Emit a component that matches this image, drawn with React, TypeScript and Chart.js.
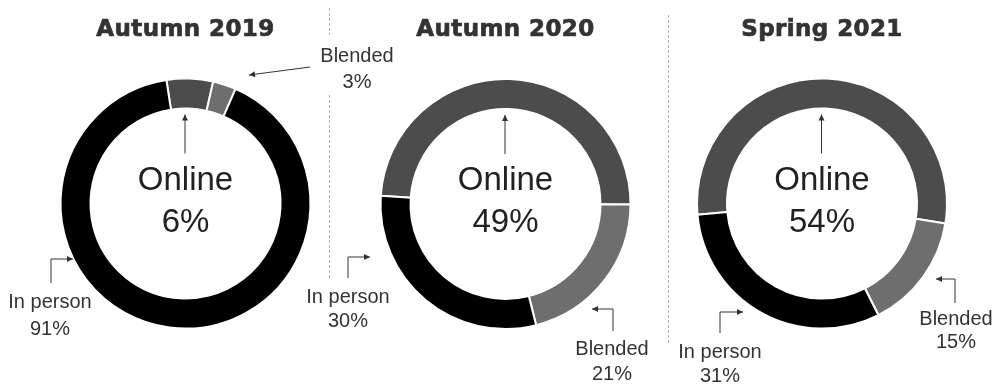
import React, { useEffect, useRef } from 'react';
import { Chart, registerables } from 'chart.js';

Chart.register(...registerables);

const periods = ['Autumn 2019', 'Autumn 2020', 'Spring 2021'];
const categories = ['Online', 'Blended', 'In person'];
const onlineShare = [6, 49, 54];
const blendedShare = [3, 21, 15];
const inPersonShare = [91, 30, 31];

const segmentColors = ['#4c4c4c', '#6e6e6e', '#000000'];
const W = 1006;
const H = 389;

type Pt = [number, number];
interface Callout { cat: number; x: number; y: number; gap: number; path: Pt[] }
interface Panel { cx: number; cy: number; r: number; callouts: Callout[]; seps: Pt[][] }

const panels: Panel[] = [
  {
    cx: 185.5, cy: 203.5, r: 125,
    callouts: [
      { cat: 1, x: 357, y: 62, gap: 26, path: [[310, 67], [249, 75]] },
      { cat: 2, x: 50, y: 308, gap: 27, path: [[51, 283], [51, 259], [73, 259]] },
    ],
    seps: [],
  },
  {
    cx: 505.5, cy: 204, r: 125,
    callouts: [
      { cat: 1, x: 612, y: 355, gap: 25, path: [[613, 331], [613, 309], [592, 309]] },
      { cat: 2, x: 348, y: 303, gap: 24, path: [[348, 278], [348, 257], [370, 257]] },
    ],
    seps: [[[329.5, 8], [329.5, 35]], [[329.5, 95], [329.5, 280]]],
  },
  {
    cx: 822, cy: 203.5, r: 125,
    callouts: [
      { cat: 1, x: 956, y: 325, gap: 23, path: [[955, 303], [955, 279], [936, 279]] },
      { cat: 2, x: 720, y: 358, gap: 24, path: [[720, 333], [720, 312], [743, 312]] },
    ],
    seps: [[[668.5, 15], [668.5, 343]]],
  },
];

function arrow(ctx: CanvasRenderingContext2D, path: Pt[]) {
  ctx.save();
  ctx.strokeStyle = '#333';
  ctx.fillStyle = '#333';
  ctx.lineWidth = 1;
  ctx.beginPath();
  ctx.moveTo(path[0][0], path[0][1]);
  for (let i = 1; i < path.length; i++) ctx.lineTo(path[i][0], path[i][1]);
  ctx.stroke();
  const [x1, y1] = path[path.length - 2];
  const [x2, y2] = path[path.length - 1];
  const a = Math.atan2(y2 - y1, x2 - x1);
  const len = 6;
  const hw = 3;
  ctx.beginPath();
  ctx.moveTo(x2, y2);
  ctx.lineTo(x2 - len * Math.cos(a) + hw * Math.sin(a), y2 - len * Math.sin(a) - hw * Math.cos(a));
  ctx.lineTo(x2 - len * Math.cos(a) - hw * Math.sin(a), y2 - len * Math.sin(a) + hw * Math.cos(a));
  ctx.closePath();
  ctx.fill();
  ctx.restore();
}

function DonutPanel({ idx }: { idx: number }) {
  const ref = useRef<HTMLCanvasElement | null>(null);
  useEffect(() => {
    const canvas = ref.current;
    if (!canvas) return;
    const p = panels[idx];
    const values = [onlineShare[idx], blendedShare[idx], inPersonShare[idx]];
    const bw = 2;
    const rr = p.r + bw / 2;
    const decor = {
      id: 'decor' + idx,
      beforeDatasetsDraw(chart: any) {
        const ctx: CanvasRenderingContext2D = chart.ctx;
        ctx.save();
        ctx.strokeStyle = '#b0b0b0';
        ctx.lineWidth = 1;
        ctx.setLineDash([3, 2]);
        for (const s of p.seps) {
          ctx.beginPath();
          ctx.moveTo(s[0][0], s[0][1]);
          ctx.lineTo(s[1][0], s[1][1]);
          ctx.stroke();
        }
        ctx.restore();
      },
      afterDraw(chart: any) {
        const ctx: CanvasRenderingContext2D = chart.ctx;
        const arc = chart.getDatasetMeta(0).data[0];
        const cx = arc.x;
        const cy = arc.y;
        ctx.save();
        // title
        ctx.fillStyle = '#333';
        ctx.strokeStyle = '#333';
        ctx.lineWidth = 0.7;
        ctx.textAlign = 'center';
        ctx.textBaseline = 'alphabetic';
        ctx.font = 'bold 23px "DejaVu Sans"';
        (ctx as any).letterSpacing = '0.4px';
        ctx.fillText(periods[idx], cx, 36);
        ctx.strokeText(periods[idx], cx, 36);
        (ctx as any).letterSpacing = '0px';
        // center text
        ctx.fillStyle = '#222';
        ctx.font = '33px "Liberation Sans", Arial, sans-serif';
        ctx.fillText(categories[0], cx, cy - 14);
        ctx.fillText(values[0] + '%', cx, cy + 28);
        // online arrow
        arrow(ctx, [[cx - 0.5, cy - 50], [cx - 0.5, cy - 89]]);
        // callouts
        ctx.fillStyle = '#333';
        ctx.font = '20px "Liberation Sans", Arial, sans-serif';
        for (const c of p.callouts) {
          ctx.fillText(categories[c.cat], c.x, c.y);
          ctx.fillText(values[c.cat] + '%', c.x, c.y + c.gap);
          arrow(ctx, c.path);
        }
        ctx.restore();
      },
    };
    const rotation = -(values[0] * 3.6) / 2 + 2;
    const chart = new Chart(canvas, {
      type: 'doughnut',
      data: {
        labels: categories,
        datasets: [
          {
            data: values,
            backgroundColor: segmentColors,
            borderColor: '#ffffff',
            borderWidth: bw,
          },
        ],
      },
      options: {
        responsive: false,
        animation: false,
        devicePixelRatio: 1,
        rotation,
        cutout: '76%',
        events: [],
        layout: {
          padding: {
            left: p.cx - rr,
            right: W - (p.cx + rr),
            top: p.cy - rr,
            bottom: H - (p.cy + rr),
          },
        },
        plugins: {
          legend: { display: false },
          tooltip: { enabled: false },
          title: { display: false },
        },
      },
      plugins: [decor],
    } as any);
    return () => chart.destroy();
  }, [idx]);
  return (
    <canvas
      ref={ref}
      width={W}
      height={H}
      style={{ position: 'absolute', left: 0, top: 0, width: W, height: H }}
    />
  );
}

export default function App() {
  return (
    <div style={{ position: 'absolute', left: 0, top: 0, width: W, height: H, background: '#fff' }}>
      {periods.map((_, i) => (
        <DonutPanel key={i} idx={i} />
      ))}
    </div>
  );
}
